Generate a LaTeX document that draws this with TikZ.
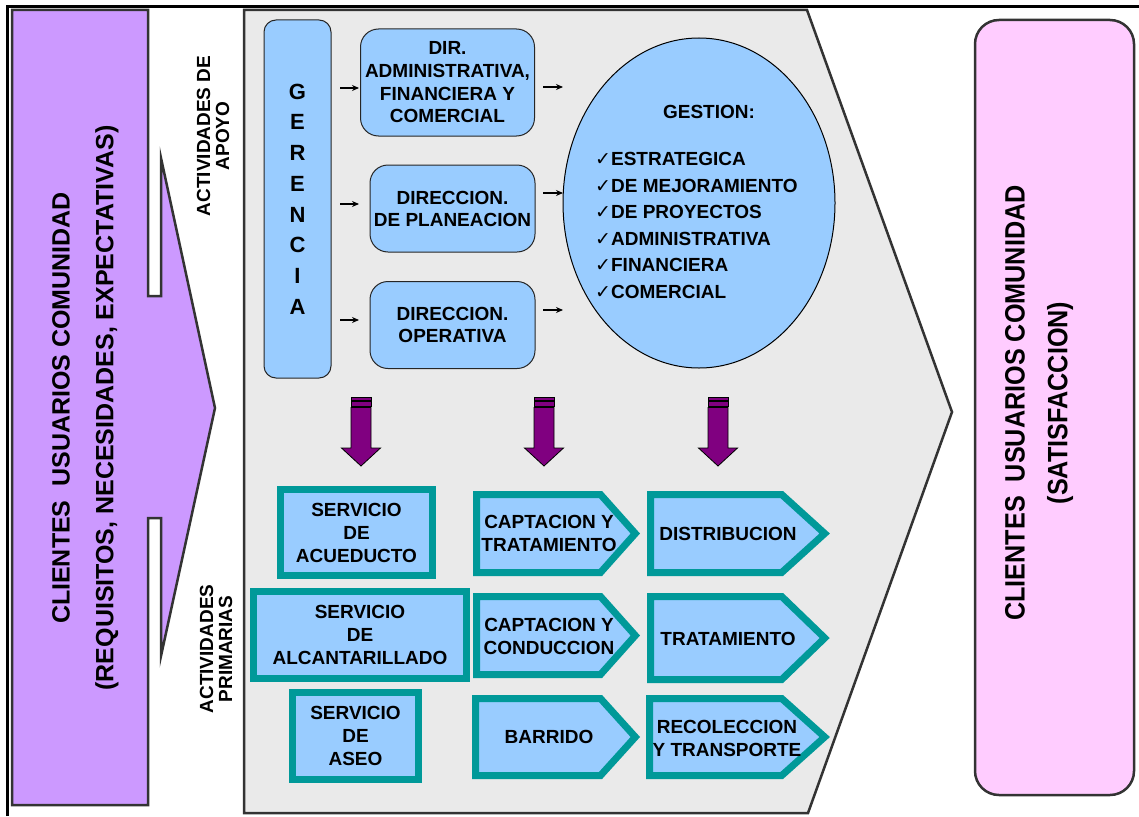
\documentclass[tikz,border=0pt]{standalone}
\usepackage{fontspec}
\setmainfont{Liberation Sans}
\newfontfamily\symfont{DejaVu Sans}
\usetikzlibrary{arrows.meta,shapes.geometric}
\definecolor{purpL}{HTML}{CC99FF}
\definecolor{grayBG}{HTML}{EAEAEA}
\definecolor{pinkL}{HTML}{FFCCFF}
\definecolor{blueL}{HTML}{99CCFF}
\definecolor{tealB}{HTML}{009999}
\definecolor{arrP}{HTML}{800080}
\definecolor{edgeC}{HTML}{333333}
\newcommand{\chk}{{\symfont\mdseries\fontsize{19}{19}\selectfont ✓}}
\begin{document}
\begin{tikzpicture}[x=1pt,y=-1pt,
  lbl/.style={font=\bfseries\fontsize{19}{23}\selectfont, align=center, inner sep=0pt, text=black},
  bluebox/.style={draw=black!85, line width=1pt, fill=blueL, rounded corners=14pt, inner sep=0pt},
  tealbox/.style={draw=tealB, line width=7pt, fill=blueL, inner sep=0pt},
  tealpath/.style={draw=tealB, line width=7pt, fill=blueL, line join=miter},
  smallarr/.style={-{Stealth[length=7pt,width=6pt]}, line width=1.3pt},
  bigshape/.style={draw=edgeC, line width=2.5pt, line join=miter},
  parrow/.style={fill=arrP, draw=black, line width=0.8pt},
  bigtxt/.style={rotate=90, inner sep=0pt, font=\bfseries\fontsize{25}{30}\selectfont}
]
\useasboundingbox (0,0) rectangle (1139,816);
\fill[white] (0,0) rectangle (1139,816);
% frame lines
\draw[line width=3.5pt] (7.5,816) -- (7.5,6.5) -- (1139,6.5);
% left purple arrow shape
\draw[bigshape, fill=purpL] (12,10) -- (148,10) -- (148,296) -- (161,296) -- (161,158) -- (215,408) -- (161,656) -- (161,518) -- (148,518) -- (148,805) -- (12,805) -- cycle;
% central grey chevron
\draw[bigshape, fill=grayBG] (244,10) -- (807,10) -- (952,412) -- (808,813) -- (244,813) -- cycle;
% right pink box
\draw[bigshape, fill=pinkL, rounded corners=24pt] (975,20) rectangle (1134,795);

% big rotated texts
\node[bigtxt] (cli1) at (61,408) {CLIENTES\ \ USUARIOS COMUNIDAD};
\node[bigtxt] (cli2) at (107,408) {(REQUISITOS, NECESIDADES, EXPECTATIVAS)};
\node[bigtxt, font=\bfseries\fontsize{28}{30}\selectfont] (sat1) at (1015,403) {\scalebox{0.9}[1]{CLIENTES\ \ USUARIOS COMUNIDAD}};
\node[bigtxt, font=\bfseries\fontsize{28}{30}\selectfont] (sat2) at (1060,403) {\scalebox{0.9}[1]{(SATISFACCION)}};

\node[lbl, rotate=90, font=\bfseries\fontsize{19}{19}\selectfont] (apoyo) at (213,136) {ACTIVIDADES DE\\APOYO};
\node[lbl, rotate=90, font=\bfseries\fontsize{19}{19}\selectfont] (prim) at (216,649) {ACTIVIDADES\\PRIMARIAS};

% support boxes
\node[bluebox, rounded corners=12pt, minimum width=67pt, minimum height=358pt, align=center, font=\bfseries\fontsize{22}{30.7}\selectfont] (ger) at (297.5,199) {G\\E\\R\\E\\N\\C\\I\\A};
\node[bluebox, rounded corners=18pt, minimum width=174pt, minimum height=107pt, lbl, font=\bfseries\fontsize{19}{22.7}\selectfont] (dadm) at (447.5,82.5) {DIR.\\ADMINISTRATIVA,\\FINANCIERA Y\\COMERCIAL};
\node[bluebox, rounded corners=18pt, minimum width=165pt, minimum height=87pt, lbl, font=\bfseries\fontsize{19}{22}\selectfont] (dplan) at (452.5,208.5) {DIRECCION.\\DE PLANEACION};
\node[bluebox, rounded corners=18pt, minimum width=165pt, minimum height=87pt, lbl, font=\bfseries\fontsize{19}{22}\selectfont] (dope) at (452.5,325) {DIRECCION.\\OPERATIVA};

% ellipse
\node[draw=black, line width=1pt, fill=blueL, ellipse, minimum width=272pt, minimum height=330pt, inner sep=0pt] (gest) at (699,203) {};
\node[lbl] (gtitle) at (709,112) {GESTION:};
\foreach \t [count=\i] in {ESTRATEGICA, DE MEJORAMIENTO, DE PROYECTOS, ADMINISTRATIVA, FINANCIERA, COMERCIAL}
  \node[lbl, anchor=west] (gi\i) at (595,{159+26.6*(\i-1)}) {\chk\t};

% small arrows
\coordinate (la1) at (340,88);  \coordinate (lb1) at (359,88);
\coordinate (la2) at (340,204); \coordinate (lb2) at (359,204);
\coordinate (la3) at (340,320); \coordinate (lb3) at (359,320);
\coordinate (ra1) at (543,87);  \coordinate (rb1) at (563,87);
\coordinate (ra2) at (543,193); \coordinate (rb2) at (563,193);
\coordinate (ra3) at (543,310); \coordinate (rb3) at (563,310);
\foreach \i in {1,2,3} {
  \draw[smallarr] (la\i) -- (lb\i);
  \draw[smallarr] (ra\i) -- (rb\i);
}

% purple striped down arrows
\foreach \c in {361,544,718} {
  \draw[parrow] (\c-10,397.5) rectangle (\c+10,400.5);
  \draw[parrow] (\c-10,401.8) rectangle (\c+10,406);
  \draw[parrow] (\c-10,407.5) -- (\c+10,407.5) -- (\c+10,448) -- (\c+19.5,448) -- (\c,466) -- (\c-19.5,448) -- (\c-10,448) -- cycle;
}

% primary service boxes
\node[tealbox, minimum width=152pt, minimum height=86pt, lbl] (sacu) at (356.5,532.5) {SERVICIO\\DE\\ACUEDUCTO};
\node[tealbox, minimum width=213pt, minimum height=87pt, lbl] (salc) at (360,635) {SERVICIO\\DE\\ALCANTARILLADO};
\node[tealbox, minimum width=126pt, minimum height=87pt, lbl] (sase) at (355.5,736) {SERVICIO\\DE\\ASEO};

% pentagon arrows
\foreach \L/\T/\B/\C/\X in {476.5/494.5/572.5/600.5/635.3, 476.5/596.5/674.5/600.5/635.3, 475.5/698.5/775.5/600.5/635.3,
  650.5/494.5/572.5/781.7/824.7, 650.5/596.5/679.5/781.7/824.7, 649.5/698.5/775.5/781.7/824.7}
  \draw[tealpath] (\L,\T) -- (\C,\T) -- (\X,{(\T+\B)/2}) -- (\C,\B) -- (\L,\B) -- cycle;

\node[lbl] (capt) at (549,533.5) {CAPTACION Y\\TRATAMIENTO};
\node[lbl] (capc) at (549,636.5) {CAPTACION Y\\CONDUCCION};
\node[lbl] (barr) at (549,737) {BARRIDO};
\node[lbl] (dist) at (728,534) {DISTRIBUCION};
\node[lbl] (trat) at (728,639) {TRATAMIENTO};
\node[lbl] (reco) at (727,738) {RECOLECCION\\Y TRANSPORTE};
\end{tikzpicture}
\end{document}
